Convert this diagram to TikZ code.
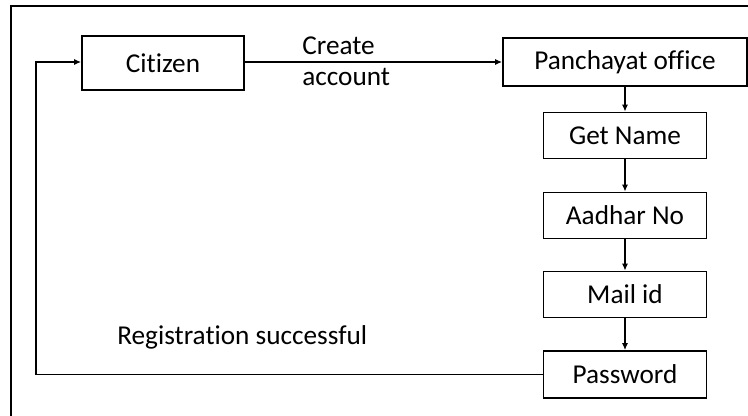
\documentclass[tikz,border=0pt]{standalone}
\usepackage{fontspec}
\setmainfont{Carlito}[Ligatures={NoCommon}]
\usetikzlibrary{arrows.meta}

\begin{document}
\begin{tikzpicture}[
  box/.style={draw, line width=1pt, minimum width=3.26cm, minimum height=0.92cm, inner sep=0pt, font=\fontsize{15.5}{17.6}\selectfont},
  arr/.style={-{Latex[length=4pt,width=3.5pt]}, line width=0.75pt},
  lbl/.style={inner sep=0pt, font=\fontsize{15.5}{17.6}\selectfont}
]
\useasboundingbox (0,0) rectangle (14.96,8.32);
\clip (0,0) rectangle (14.96,8.32);
\draw[line width=0.7pt] (0.22,-1) rectangle (16,8.2);
\node[box, minimum width=3.24cm, minimum height=1.08cm] (citizen) at (3.26,7.06) {Citizen};
\node[box, minimum width=4.88cm, minimum height=0.95cm] (office) at (12.5,7.08) {Panchayat office};
\node[box] (getname) at (12.5,5.61) {Get Name};
\node[box] (aadhar) at (12.5,4.01) {Aadhar No};
\node[box] (mailid) at (12.5,2.43) {Mail id};
\node[box, minimum height=0.94cm] (password) at (12.5,0.83) {Password};
\node[lbl, anchor=base west] (create) at (6.04,7.22) {Create};
\node[lbl, anchor=base west] (account) at (6.04,6.6) {account};
\node[lbl, anchor=base west] (regdone) at (2.34,1.42) {Registration successful};
\coordinate (corner) at (0.72,7.08);
\draw[arr] (citizen.east |- office.west) -- (office.west);
\draw[arr] (office) -- (getname);
\draw[arr] (getname) -- (aadhar);
\draw[arr] (aadhar) -- (mailid);
\draw[arr] (mailid) -- (password);
\draw[arr] (password.west) -| (corner) -- (citizen.west |- corner);
\end{tikzpicture}
\end{document}
